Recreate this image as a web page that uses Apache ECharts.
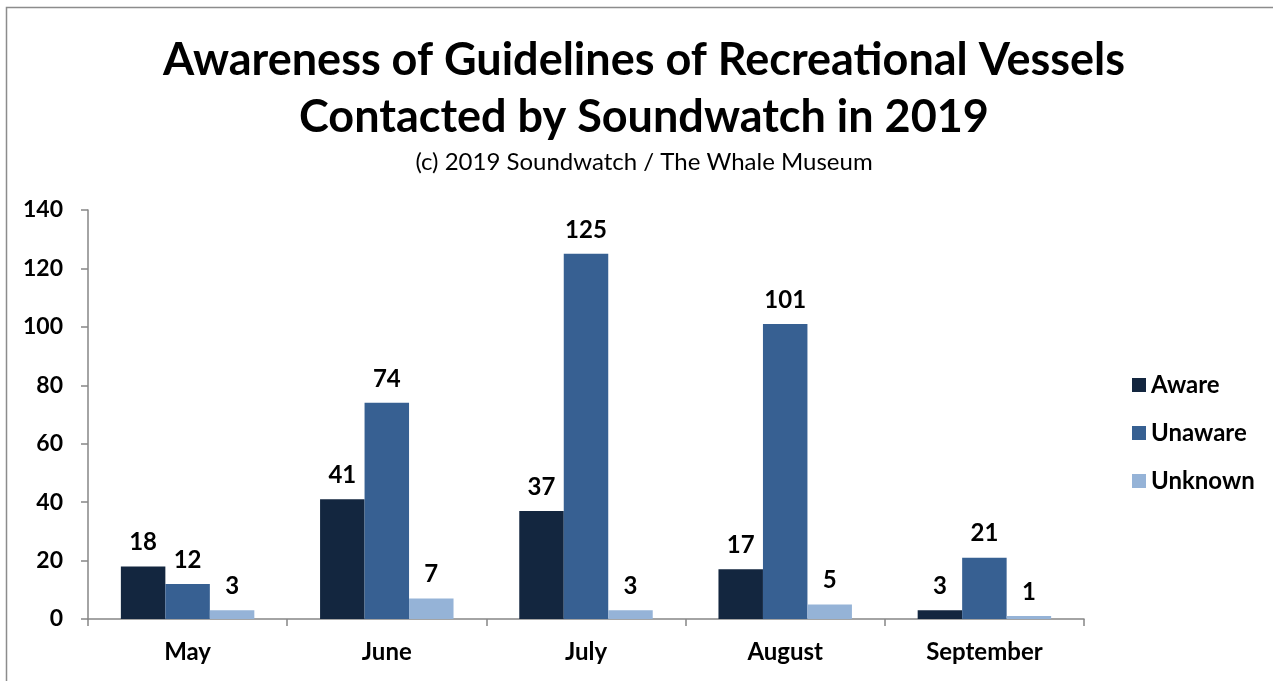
<!DOCTYPE html>
<html><head><meta charset="utf-8">
<script src="https://cdn.jsdelivr.net/npm/echarts@6/dist/echarts.min.js"></script>
<style>html,body{margin:0;padding:0;background:#fff}#c{width:1273px;height:681px}</style>
</head><body><div id="c"></div>
<script>
const months = ['May','June','July','August','September'];
const aware = [18, 41, 37, 17, 3];
const unaware = [12, 74, 125, 101, 21];
const unknown = [3, 7, 3, 5, 1];
const seriesNames = ['Aware','Unaware','Unknown'];
const colors = ['#13263f','#376092','#95b3d7'];
const titleLines = ['Awareness of Guidelines of Recreational Vessels','Contacted by Soundwatch in 2019'];
const subtitle = '(c) 2019 Soundwatch / The Whale Museum';

const FONT = 'Lato, "Open Sans", sans-serif';
const chart = echarts.init(document.getElementById('c'));
const lbl = {show:true, position:'top', distance:12, color:'#000', fontWeight:'bold', fontSize:24, fontFamily:FONT};
const data = [aware, unaware, unknown];
chart.setOption({
  animation:false,
  textStyle:{fontFamily:FONT},
  graphic:[
    {type:'rect', shape:{x:6.5, y:7.5, width:1300, height:700}, style:{fill:'none', stroke:'#8c8c8c', lineWidth:1.5}, silent:true},
    {type:'text', x:644, y:60, style:{text:titleLines[0], font:'bold 45px '+FONT, fill:'#000', textAlign:'center', textVerticalAlign:'middle'}},
    {type:'text', x:644, y:117, style:{text:titleLines[1], font:'bold 45px '+FONT, fill:'#000', textAlign:'center', textVerticalAlign:'middle'}},
    {type:'text', x:644, y:162, style:{text:subtitle, font:'24px '+FONT, fill:'#000', textAlign:'center', textVerticalAlign:'middle'}}
  ],
  legend:{
    orient:'vertical', left:1127, top:368, itemWidth:14, itemHeight:14, itemGap:24,
    icon:'rect',
    textStyle:{fontSize:24, lineHeight:24, fontWeight:'bold', color:'#000', fontFamily:FONT, padding:[0,0,0,0]},
    data:seriesNames
  },
  grid:{left:88, right:189, top:210, bottom:62, containLabel:false},
  xAxis:{
    type:'category', data:months,
    axisLine:{lineStyle:{color:'#868686', width:1.5}},
    axisTick:{show:true, length:7, lineStyle:{color:'#868686', width:1.5}},
    axisLabel:{color:'#000', fontWeight:'bold', fontSize:24, margin:21, fontFamily:FONT}
  },
  yAxis:{
    type:'value', min:0, max:140, interval:20,
    axisLine:{show:true, lineStyle:{color:'#868686', width:1.5}},
    axisTick:{show:true, length:7, lineStyle:{color:'#868686', width:1.5}},
    splitLine:{show:false},
    axisLabel:{color:'#000', fontWeight:'bold', fontSize:23, margin:25, fontFamily:FONT}
  },
  series: seriesNames.map((n,i)=>({
    name:n, type:'bar', data:data[i], barGap:'0%', barCategoryGap:'33%',
    itemStyle:{color:colors[i]}, label:lbl
  }))
});
</script></body></html>
